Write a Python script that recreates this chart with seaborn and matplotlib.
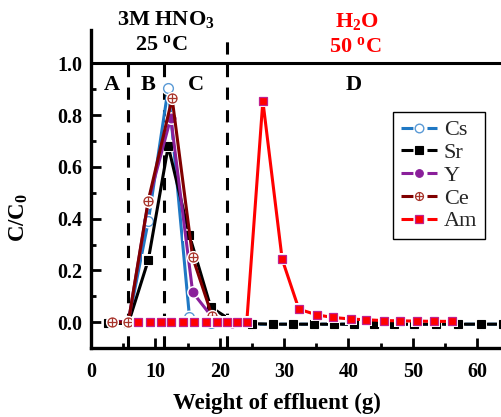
import matplotlib
matplotlib.use("Agg")
import matplotlib.pyplot as plt
import seaborn as sns
import pandas as pd
from matplotlib.lines import Line2D
from matplotlib.path import Path

# Effluent weight (g) and normalised concentration C/C0 for each element
grid_x = [2.6, 5.8, 8.9, 12.0, 15.3, 18.6, 21.9, 25.0, 28.2, 31.4, 34.6,
          37.7, 40.8, 43.9, 47.0, 50.2, 53.6, 57.0, 60.6, 64.0]
cs_y = [0.0, 0.0, 0.39, 0.905, 0.02, -0.005, -0.005, -0.008, -0.008, -0.008,
        -0.008, -0.008, -0.008, -0.008, -0.008, -0.008, -0.008, -0.008,
        -0.008, -0.008]
sr_y = [-0.005, -0.005, 0.24, 0.68, 0.335, 0.058, 0.005, -0.006, -0.008,
        -0.008, -0.008, -0.008, -0.008, -0.008, -0.008, -0.008, -0.008,
        -0.008, -0.008, -0.008]
y_x = [3.3, 5.8, 8.9, 12.4, 15.8, 18.8, 21.9]
y_y = [0.005, 0.0, 0.465, 0.79, 0.115, 0.02, -0.003]
ce_x = [3.3, 5.8, 8.9, 12.6, 15.8, 18.8, 21.9]
ce_y = [0.0, 0.0, 0.47, 0.865, 0.25, 0.025, 0.005]
am_x = [7.3, 9.1, 10.8, 12.5, 14.3, 16.0, 17.8, 19.5, 21.2, 22.7,
        24.2, 26.7, 29.7, 32.3, 35.1, 37.6, 40.4, 42.8, 45.5, 48.0, 50.6,
        53.3, 56.1]
am_y = [0.0, 0.0, 0.0, 0.0, 0.0, 0.0, 0.0, 0.0, 0.0, 0.0,
        0.0, 0.855, 0.243, 0.05, 0.028, 0.018, 0.012, 0.009, 0.006, 0.005,
        0.004, 0.003, 0.003]

# Column boundaries between regions A | B | C | D
boundaries = [5.7, 11.3, 21.1]
boundary_tops = [1.0, 1.0, 1.09]
region_labels = ["A", "B", "C", "D"]
region_pos = [3.3, 8.85, 16.3, 40.8]

# circle with a cross inside (open symbol used for Ce)
circle_plus = Path.make_compound_path(
    Path.unit_circle(),
    Path([(-1, 0), (1, 0)]),
    Path([(0, -1), (0, 1)]),
)

series = [
    ("Cs", grid_x, cs_y, dict(color="#1f78c4", marker="o", mfc="white", mec="#5a9ad6", ms=7, mew=1.0)),
    ("Sr", grid_x, sr_y, dict(color="black", marker="s", mfc="black", mec="black", ms=6.3, mew=0.8)),
    ("Y", y_x, y_y, dict(color="#8a1f9a", marker="o", mfc="#8a1f9a", mec="#8a1f9a", ms=6.3, mew=0.8)),
    ("Ce", ce_x, ce_y, dict(color="#800000", marker=circle_plus, mfc="white", mec="#a8352c", ms=6.5, mew=0.9)),
    ("Am", am_x, am_y, dict(color="#ff0000", marker="s", mfc="#ff0000", mec="#c0208f", ms=6.3, mew=0.9)),
]

sns.set_theme(style="ticks")
plt.rcParams["font.family"] = ["Liberation Serif", "DejaVu Serif"]
plt.rcParams["font.weight"] = "bold"
plt.rcParams["mathtext.fontset"] = "custom"
plt.rcParams["mathtext.rm"] = "Liberation Serif"
plt.rcParams["mathtext.bf"] = "Liberation Serif:bold"
plt.rcParams["mathtext.it"] = "Liberation Serif:italic"

fig = plt.figure(figsize=(5.01, 4.17), dpi=100)
ax = fig.add_axes([91 / 501, 69 / 417, 1 - 91 / 501, (348 - 29.8) / 417])

LW = 2.2
HALO = 3.0
handles = []
for i, (name, xs, ys, st) in enumerate(series):
    df = pd.DataFrame({"w": xs, "c": ys})
    z = 2 + i
    sns.lineplot(data=df, x="w", y="c", sort=False, estimator=None, ax=ax,
                 color=st["color"], lw=LW, zorder=z, legend=False)
    # white halo leaves a small gap between the line and each symbol
    sns.lineplot(data=df, x="w", y="c", sort=False, estimator=None, ax=ax,
                 ls="none", marker="o" if name in ("Ce", "Y", "Cs") else "s",
                 ms=st["ms"] + HALO, mfc="white", mec="white", mew=0,
                 zorder=z + 0.1, legend=False)
    sns.lineplot(data=df, x="w", y="c", sort=False, estimator=None, ax=ax,
                 ls="none", marker=st["marker"], ms=st["ms"], mfc=st["mfc"],
                 mec=st["mec"], mew=st["mew"], zorder=z + 0.2, legend=False)
    # legend key: two line pieces with a gap around the centred symbol
    handles.append(Line2D([0], [0], color=st["color"], lw=LW,
                          ls=(0.0, (3.9, 4.6)), dash_capstyle="butt",
                          marker=st["marker"], ms=st["ms"] - 0.8,
                          mfc=st["mfc"], mec=st["mec"], mew=st["mew"]))

# region boundaries and the C/C0 = 1 reference line
for bx, top in zip(boundaries, boundary_tops):
    ax.plot([bx, bx], [-0.1, top], color="black", lw=2.2,
            ls=(0, (4.0, 3.4)), zorder=1)
ax.axhline(1.0, color="black", lw=2.2, zorder=1)

for lab, px in zip(region_labels, region_pos):
    ax.text(px, 0.915, lab, ha="center", va="center", fontsize=16,
            fontweight="bold", color="black")

ax.set_xlim(0, 63.7)
ax.set_ylim(-0.1, 1.13)
ax.set_xticks([0, 10, 20, 30, 40, 50, 60])
ax.set_xticks([5, 15, 25, 35, 45, 55], minor=True)
ax.set_yticks([0.0, 0.2, 0.4, 0.6, 0.8, 1.0])
ax.set_yticks([0.1, 0.3, 0.5, 0.7, 0.9], minor=True)
ax.set_yticklabels(["0.0", "0.2", "0.4", "0.6", "0.8", "1.0"])
ax.tick_params(axis="both", which="major", direction="in", length=7, width=2,
               labelsize=14.5, color="black", labelcolor="black")
ax.tick_params(axis="both", which="minor", direction="in", length=3.5, width=2,
               color="black")
ax.tick_params(axis="x", which="major", pad=10)
ax.tick_params(axis="y", which="major", pad=6)
for lbl in ax.get_xticklabels() + ax.get_yticklabels():
    lbl.set_fontweight("bold")

for side in ["top", "right"]:
    ax.spines[side].set_visible(False)
for side in ["left", "bottom"]:
    ax.spines[side].set_linewidth(2.4)
    ax.spines[side].set_color("black")

ax.set_xlabel("Weight of effluent (g)", fontsize=16.5, fontweight="bold",
              color="black")
ax.xaxis.set_label_coords(0.454, -0.14)
ax.set_ylabel(r"C/C$_\mathbf{0}$", fontsize=16.5, fontweight="bold", color="black")
ax.yaxis.set_label_coords(-0.15, 0.41)

# eluent conditions above the plot
fig.text(166 / 501, 1 - 20 / 417, r"3M HNO$_\mathbf{3}$", ha="center", va="center",
         fontsize=16, fontweight="bold", color="black")
fig.text(161 / 501, 1 - 45 / 417, r"25 $^\mathbf{o}$C", ha="center", va="center",
         fontsize=16, fontweight="bold", color="black")
fig.text(357 / 501, 1 - 22 / 417, r"H$_\mathbf{2}$O", ha="center", va="center",
         fontsize=16, fontweight="bold", color="#ff0000")
fig.text(355 / 501, 1 - 47 / 417, r"50 $^\mathbf{o}$C", ha="center", va="center",
         fontsize=16, fontweight="bold", color="#ff0000")

leg = ax.legend(handles, [s[0] for s in series], numpoints=1,
                loc="upper right", bbox_to_anchor=(485 / 501, 1 - 112 / 417),
                bbox_transform=fig.transFigure, frameon=True, fancybox=False,
                edgecolor="black", framealpha=1, borderaxespad=0,
                handlelength=1.65, handletextpad=0.3, labelspacing=0.1,
                borderpad=0.35, prop={"family": "Liberation Serif",
                                      "weight": "normal", "size": 16})
leg.get_frame().set_linewidth(1.0)
leg.set_zorder(20)

fig.savefig("out.png", dpi=100)
